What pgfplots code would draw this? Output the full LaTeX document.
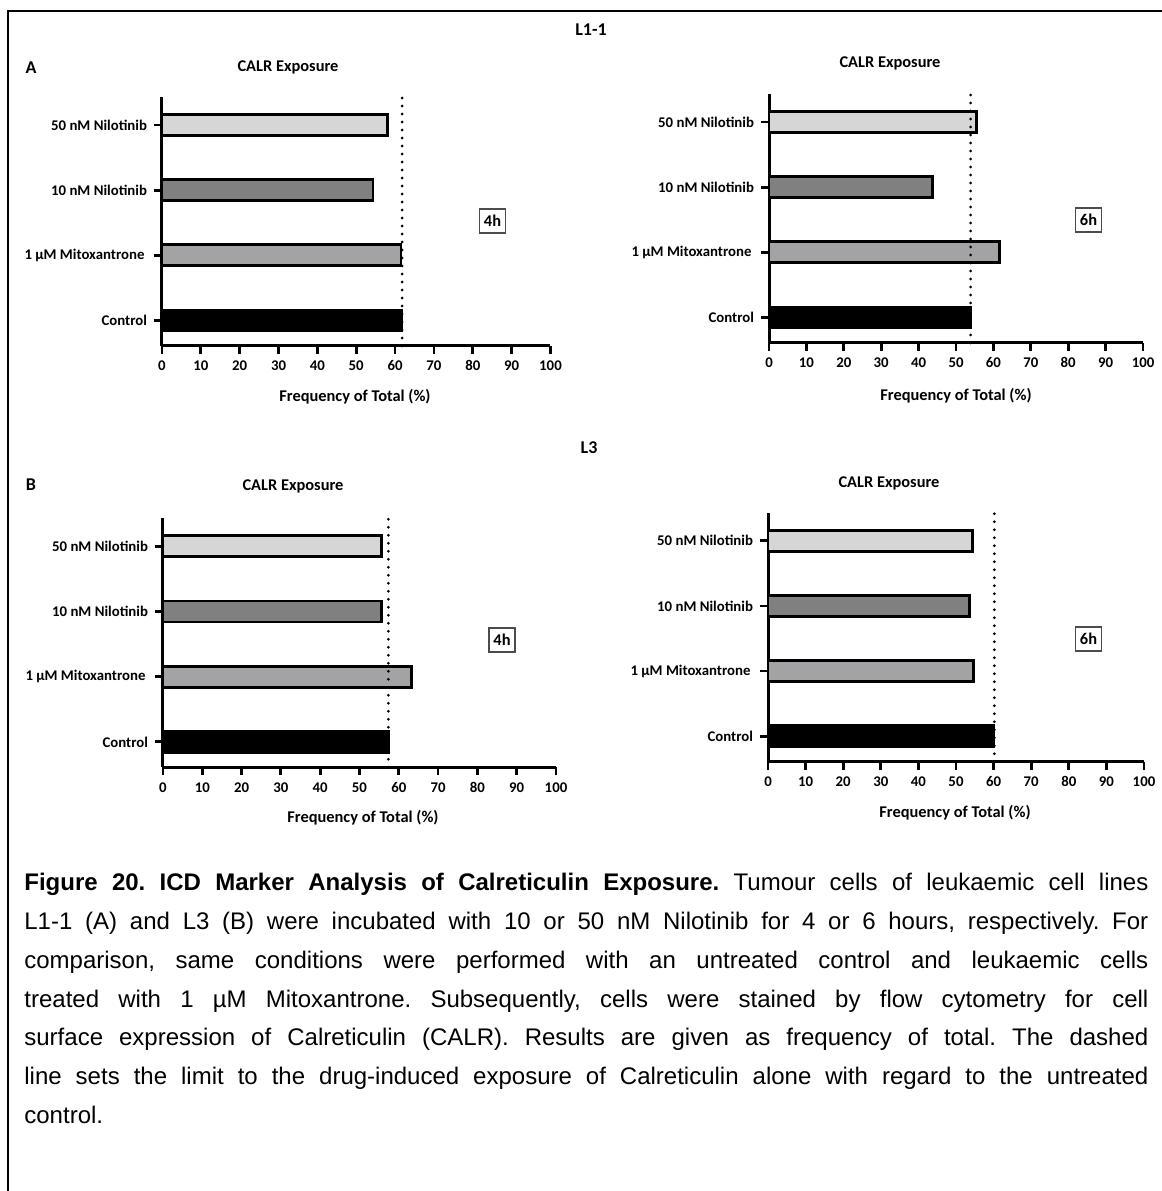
\documentclass[border=0pt]{standalone}
\usepackage{pgfplots}
\pgfplotsset{compat=1.18}
\usepackage{fontspec}
\setmainfont{Liberation Sans}
\newfontfamily\carlito{Carlito}
\definecolor{gLight}{RGB}{214,214,214}
\definecolor{gDark}{RGB}{128,128,128}
\definecolor{gMid}{RGB}{163,163,166}
\newcommand{\tickf}{\carlito\bfseries\fontsize{7.4}{8}\selectfont}
\newcommand{\titf}{\carlito\bfseries\fontsize{8.2}{9}\selectfont}
% #1 x, #2 y (pt), #3 width, #4 control, #5 mitox, #6 10nM, #7 50nM, #8 dotted
\newcommand{\panel}[8]{%
\begin{axis}[
  at={(#1,#2)}, anchor=south west, scale only axis,
  width=#3, height=124.5pt,
  xmin=0, xmax=100, ymin=-0.39, ymax=3.43,
  axis x line*=bottom, axis y line*=left,
  axis line style={line width=1.5pt, -},
  xtick={0,10,20,30,40,50,60,70,80,90,100}, ytick={0,1,2,3},
  xticklabels={0,10,20,30,40,50,60,70,80,90,100},
  yticklabels={Control, 1 µM Mitoxantrone\,, 10 nM Nilotinib, 50 nM Nilotinib},
  xtick pos=left, ytick pos=left,
  tick align=outside, major tick length=4pt,
  every tick/.style={line width=1.4pt, black},
  ticklabel style={font=\tickf},
  xticklabel style={anchor=north, text height=5.2pt, text depth=0pt, inner sep=0pt, yshift=-3pt},
  clip=false,
]
\addplot[xbar, bar shift=0pt, bar width=10.5pt, fill=black, draw=black, line width=1.4pt] coordinates {(#4,0)};
\addplot[xbar, bar shift=0pt, bar width=10.5pt, fill=gMid, draw=black, line width=1.4pt] coordinates {(#5,1)};
\addplot[xbar, bar shift=0pt, bar width=10.5pt, fill=gDark, draw=black, line width=1.4pt] coordinates {(#6,2)};
\addplot[xbar, bar shift=0pt, bar width=10.5pt, fill=gLight, draw=black, line width=1.4pt] coordinates {(#7,3)};
\addplot[black, line width=1.5pt, dash pattern=on 0pt off 4pt, line cap=round] coordinates {(#8,-0.39) (#8,3.5)};
\end{axis}}
\tikzset{hbox/.style={draw=black!70, line width=0.6pt, inner sep=0pt, minimum width=13pt, minimum height=12pt, font=\titf}}
\begin{document}
\begin{tikzpicture}
\useasboundingbox (0,0) rectangle (581pt,595.5pt);
\draw[line width=1.2pt] (4pt,0) -- (4pt,590pt) -- (582pt,590pt);
% L1-1
\node[font=\carlito\bfseries\fontsize{9}{10}\selectfont] at (295.5pt,580.5pt) {L1-1};
\node[font=\carlito\bfseries\fontsize{9}{10}\selectfont] at (15.5pt,561.5pt) {A};
\panel{81pt}{422.5pt}{194.25pt}{61.8}{61.5}{54.3}{58.0}{61.8}
\panel{384.5pt}{424pt}{187pt}{53.8}{61.6}{43.8}{55.4}{53.9}
\node[font=\titf] at (144pt,562pt) {CALR Exposure};
\node[font=\titf] at (445pt,564pt) {CALR Exposure};
\node[font=\titf] at (177.5pt,397pt) {Frequency of Total (\%)};
\node[font=\titf] at (478pt,397.5pt) {Frequency of Total (\%)};
\node[hbox] at (246.25pt,485pt) {4h};
\node[hbox] at (544.25pt,485.5pt) {6h};
% L3
\node[font=\carlito\bfseries\fontsize{9}{10}\selectfont] at (294.5pt,371.5pt) {L3};
\node[font=\carlito\bfseries\fontsize{9}{10}\selectfont] at (15.5pt,353pt) {B};
\panel{81.5pt}{211.85pt}{196.5pt}{57.3}{63.3}{55.5}{55.7}{57.35}
\panel{384pt}{214.65pt}{188pt}{59.9}{54.6}{53.6}{54.4}{60.2}
\node[font=\titf] at (146.5pt,352.5pt) {CALR Exposure};
\node[font=\titf] at (444.5pt,354pt) {CALR Exposure};
\node[font=\titf] at (181.5pt,186.5pt) {Frequency of Total (\%)};
\node[font=\titf] at (477.5pt,189pt) {Frequency of Total (\%)};
\node[hbox] at (251pt,275.5pt) {4h};
\node[hbox] at (544.25pt,276pt) {6h};
% caption
\node[anchor=north west, inner sep=0pt, text width=562pt, align=justify,
      font=\fontsize{12}{19.4}\selectfont] at (12pt,159pt)
{\frenchspacing\hyphenpenalty=10000\exhyphenpenalty=10000
\textbf{Figure 20. ICD Marker Analysis of Calreticulin Exposure.} Tumour cells of leukaemic cell lines\linebreak
L1-1 (A) and L3 (B) were incubated with 10 or 50 nM Nilotinib for 4 or 6 hours, respectively. For\linebreak
comparison, same conditions were performed with an untreated control and leukaemic cells\linebreak
treated with 1 µM Mitoxantrone. Subsequently, cells were stained by flow cytometry for cell\linebreak
surface expression of Calreticulin (CALR). Results are given as frequency of total. The dashed\linebreak
line sets the limit to the drug-induced exposure of Calreticulin alone with regard to the untreated\linebreak
control.};
\end{tikzpicture}
\end{document}
